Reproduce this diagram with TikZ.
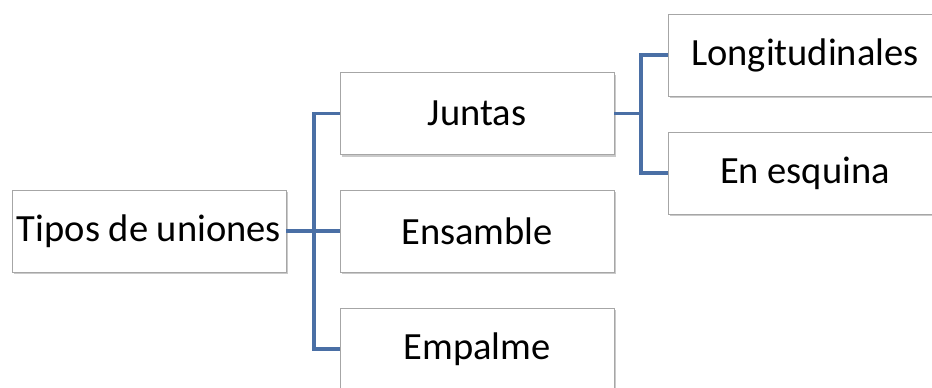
\documentclass[tikz,border=0pt]{standalone}
\usepackage{fontspec}
\setmainfont{Carlito}
\usetikzlibrary{shadows}
\definecolor{conn}{HTML}{4A6FA5}
\definecolor{boxline}{HTML}{A6A6A6}
\begin{document}
\begin{tikzpicture}[x=1pt,y=-1pt,
  box/.style={draw=boxline, line width=0.9pt, fill=white, minimum width=274pt, minimum height=82pt,
    inner sep=0pt, font=\fontsize{38.5}{42}\selectfont,
    drop shadow={shadow xshift=1.5pt, shadow yshift=-2pt, opacity=0.35, fill=black!60}},
  link/.style={draw=conn, line width=3.4pt}]
\useasboundingbox (0,0) rectangle (932,388);
\clip (0,0) rectangle (932,388);
\node[box] (root) at (149,231) {Tipos de uniones};
\node[box] (jun) at (477,113.5) {Juntas};
\node[box] (ens) at (477,231) {Ensamble};
\node[box] (emp) at (477,349) {Empalme};
\node[box] (lon) at (805,55) {Longitudinales};
\node[box] (esq) at (805,173) {En esquina};
\coordinate (j1) at (314,231);
\coordinate (j2) at (641,113.5);
\draw[link] (root.east) -- (ens.west);
\draw[link] (j1) |- (jun.west);
\draw[link] (j1) |- (emp.west);
\draw[link] (jun.east) -- (j2);
\draw[link] (j2) |- (lon.west);
\draw[link] (j2) |- (esq.west);
\end{tikzpicture}
\end{document}
